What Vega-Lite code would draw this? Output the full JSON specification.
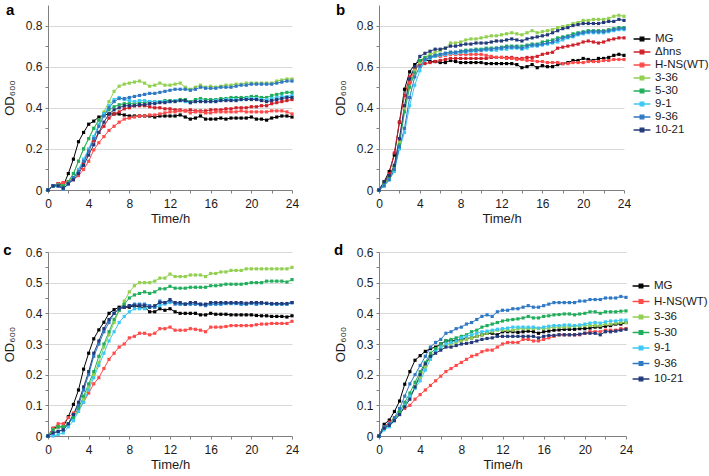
{
"$schema":"https://vega.github.io/schema/vega-lite/v6.json",
"padding":{"left":3,"top":3,"right":0,"bottom":0},
"config":{"font":"Liberation Sans","view":{"stroke":null},
"axis":{"labelFont":"Liberation Sans","labelFontSize":12,"labelColor":"#1a1a1a","titleFont":"Liberation Sans","titleFontSize":13,"titleFontWeight":"normal","titleColor":"#1a1a1a","domainColor":"#808080","tickColor":"#808080","tickSize":3,"gridColor":"#d9d9d9","labelPadding":3,"labelFlush":false,"labelOverlap":false},
"axisX":{"labelPadding":5,"titlePadding":3},
"legend":{"labelFont":"Liberation Sans","labelFontSize":11.5,"labelColor":"#1a1a1a","labelOffset":6,"symbolType":"M-1.4,0H1.4M-0.3,-0.3H0.3V0.3H-0.3Z","symbolSize":144,"symbolStrokeWidth":1.3}},
"datasets":{
"a":[
{"s":"MG","t":0,"v":0},{"s":"MG","t":0.5,"v":0.02},{"s":"MG","t":1,"v":0.03},{"s":"MG","t":1.5,"v":0.02},{"s":"MG","t":2,"v":0.08},{"s":"MG","t":2.5,"v":0.15},{"s":"MG","t":3,"v":0.235},{"s":"MG","t":3.5,"v":0.28},{"s":"MG","t":4,"v":0.32},{"s":"MG","t":4.5,"v":0.335},{"s":"MG","t":5,"v":0.355},{"s":"MG","t":5.5,"v":0.365},{"s":"MG","t":6,"v":0.37},{"s":"MG","t":6.5,"v":0.37},{"s":"MG","t":7,"v":0.37},{"s":"MG","t":7.5,"v":0.365},{"s":"MG","t":8,"v":0.36},{"s":"MG","t":8.5,"v":0.36},{"s":"MG","t":9,"v":0.36},{"s":"MG","t":9.5,"v":0.36},{"s":"MG","t":10,"v":0.36},{"s":"MG","t":10.5,"v":0.355},{"s":"MG","t":11,"v":0.36},{"s":"MG","t":11.5,"v":0.36},{"s":"MG","t":12,"v":0.36},{"s":"MG","t":12.5,"v":0.36},{"s":"MG","t":13,"v":0.365},{"s":"MG","t":13.5,"v":0.355},{"s":"MG","t":14,"v":0.345},{"s":"MG","t":14.5,"v":0.35},{"s":"MG","t":15,"v":0.36},{"s":"MG","t":15.5,"v":0.345},{"s":"MG","t":16,"v":0.345},{"s":"MG","t":16.5,"v":0.345},{"s":"MG","t":17,"v":0.35},{"s":"MG","t":17.5,"v":0.345},{"s":"MG","t":18,"v":0.35},{"s":"MG","t":18.5,"v":0.35},{"s":"MG","t":19,"v":0.35},{"s":"MG","t":19.5,"v":0.35},{"s":"MG","t":20,"v":0.355},{"s":"MG","t":20.5,"v":0.345},{"s":"MG","t":21,"v":0.345},{"s":"MG","t":21.5,"v":0.34},{"s":"MG","t":22,"v":0.35},{"s":"MG","t":22.5,"v":0.355},{"s":"MG","t":23,"v":0.36},{"s":"MG","t":23.5,"v":0.36},{"s":"MG","t":24,"v":0.355},
{"s":"Δhns","t":0,"v":0},{"s":"Δhns","t":0.5,"v":0.02},{"s":"Δhns","t":1,"v":0.03},{"s":"Δhns","t":1.5,"v":0.035},{"s":"Δhns","t":2,"v":0.04},{"s":"Δhns","t":2.5,"v":0.06},{"s":"Δhns","t":3,"v":0.09},{"s":"Δhns","t":3.5,"v":0.13},{"s":"Δhns","t":4,"v":0.19},{"s":"Δhns","t":4.5,"v":0.24},{"s":"Δhns","t":5,"v":0.28},{"s":"Δhns","t":5.5,"v":0.31},{"s":"Δhns","t":6,"v":0.35},{"s":"Δhns","t":6.5,"v":0.37},{"s":"Δhns","t":7,"v":0.38},{"s":"Δhns","t":7.5,"v":0.395},{"s":"Δhns","t":8,"v":0.4},{"s":"Δhns","t":8.5,"v":0.41},{"s":"Δhns","t":9,"v":0.41},{"s":"Δhns","t":9.5,"v":0.41},{"s":"Δhns","t":10,"v":0.405},{"s":"Δhns","t":10.5,"v":0.4},{"s":"Δhns","t":11,"v":0.4},{"s":"Δhns","t":11.5,"v":0.395},{"s":"Δhns","t":12,"v":0.395},{"s":"Δhns","t":12.5,"v":0.39},{"s":"Δhns","t":13,"v":0.39},{"s":"Δhns","t":13.5,"v":0.385},{"s":"Δhns","t":14,"v":0.39},{"s":"Δhns","t":14.5,"v":0.385},{"s":"Δhns","t":15,"v":0.385},{"s":"Δhns","t":15.5,"v":0.385},{"s":"Δhns","t":16,"v":0.39},{"s":"Δhns","t":16.5,"v":0.39},{"s":"Δhns","t":17,"v":0.39},{"s":"Δhns","t":17.5,"v":0.395},{"s":"Δhns","t":18,"v":0.395},{"s":"Δhns","t":18.5,"v":0.4},{"s":"Δhns","t":19,"v":0.4},{"s":"Δhns","t":19.5,"v":0.4},{"s":"Δhns","t":20,"v":0.405},{"s":"Δhns","t":20.5,"v":0.405},{"s":"Δhns","t":21,"v":0.41},{"s":"Δhns","t":21.5,"v":0.41},{"s":"Δhns","t":22,"v":0.42},{"s":"Δhns","t":22.5,"v":0.425},{"s":"Δhns","t":23,"v":0.43},{"s":"Δhns","t":23.5,"v":0.435},{"s":"Δhns","t":24,"v":0.44},
{"s":"H-NS(WT)","t":0,"v":0},{"s":"H-NS(WT)","t":0.5,"v":0.02},{"s":"H-NS(WT)","t":1,"v":0.03},{"s":"H-NS(WT)","t":1.5,"v":0.035},{"s":"H-NS(WT)","t":2,"v":0.04},{"s":"H-NS(WT)","t":2.5,"v":0.05},{"s":"H-NS(WT)","t":3,"v":0.07},{"s":"H-NS(WT)","t":3.5,"v":0.1},{"s":"H-NS(WT)","t":4,"v":0.14},{"s":"H-NS(WT)","t":4.5,"v":0.195},{"s":"H-NS(WT)","t":5,"v":0.23},{"s":"H-NS(WT)","t":5.5,"v":0.26},{"s":"H-NS(WT)","t":6,"v":0.29},{"s":"H-NS(WT)","t":6.5,"v":0.31},{"s":"H-NS(WT)","t":7,"v":0.33},{"s":"H-NS(WT)","t":7.5,"v":0.345},{"s":"H-NS(WT)","t":8,"v":0.35},{"s":"H-NS(WT)","t":8.5,"v":0.355},{"s":"H-NS(WT)","t":9,"v":0.36},{"s":"H-NS(WT)","t":9.5,"v":0.36},{"s":"H-NS(WT)","t":10,"v":0.365},{"s":"H-NS(WT)","t":10.5,"v":0.365},{"s":"H-NS(WT)","t":11,"v":0.37},{"s":"H-NS(WT)","t":11.5,"v":0.375},{"s":"H-NS(WT)","t":12,"v":0.38},{"s":"H-NS(WT)","t":12.5,"v":0.38},{"s":"H-NS(WT)","t":13,"v":0.385},{"s":"H-NS(WT)","t":13.5,"v":0.385},{"s":"H-NS(WT)","t":14,"v":0.375},{"s":"H-NS(WT)","t":14.5,"v":0.38},{"s":"H-NS(WT)","t":15,"v":0.38},{"s":"H-NS(WT)","t":15.5,"v":0.375},{"s":"H-NS(WT)","t":16,"v":0.375},{"s":"H-NS(WT)","t":16.5,"v":0.38},{"s":"H-NS(WT)","t":17,"v":0.38},{"s":"H-NS(WT)","t":17.5,"v":0.38},{"s":"H-NS(WT)","t":18,"v":0.38},{"s":"H-NS(WT)","t":18.5,"v":0.38},{"s":"H-NS(WT)","t":19,"v":0.385},{"s":"H-NS(WT)","t":19.5,"v":0.38},{"s":"H-NS(WT)","t":20,"v":0.38},{"s":"H-NS(WT)","t":20.5,"v":0.38},{"s":"H-NS(WT)","t":21,"v":0.38},{"s":"H-NS(WT)","t":21.5,"v":0.38},{"s":"H-NS(WT)","t":22,"v":0.385},{"s":"H-NS(WT)","t":22.5,"v":0.385},{"s":"H-NS(WT)","t":23,"v":0.385},{"s":"H-NS(WT)","t":23.5,"v":0.38},{"s":"H-NS(WT)","t":24,"v":0.37},
{"s":"3-36","t":0,"v":0},{"s":"3-36","t":0.5,"v":0.02},{"s":"3-36","t":1,"v":0.025},{"s":"3-36","t":1.5,"v":0.02},{"s":"3-36","t":2,"v":0.04},{"s":"3-36","t":2.5,"v":0.08},{"s":"3-36","t":3,"v":0.14},{"s":"3-36","t":3.5,"v":0.2},{"s":"3-36","t":4,"v":0.25},{"s":"3-36","t":4.5,"v":0.3},{"s":"3-36","t":5,"v":0.34},{"s":"3-36","t":5.5,"v":0.38},{"s":"3-36","t":6,"v":0.43},{"s":"3-36","t":6.5,"v":0.48},{"s":"3-36","t":7,"v":0.505},{"s":"3-36","t":7.5,"v":0.515},{"s":"3-36","t":8,"v":0.52},{"s":"3-36","t":8.5,"v":0.525},{"s":"3-36","t":9,"v":0.53},{"s":"3-36","t":9.5,"v":0.52},{"s":"3-36","t":10,"v":0.505},{"s":"3-36","t":10.5,"v":0.51},{"s":"3-36","t":11,"v":0.52},{"s":"3-36","t":11.5,"v":0.51},{"s":"3-36","t":12,"v":0.51},{"s":"3-36","t":12.5,"v":0.515},{"s":"3-36","t":13,"v":0.52},{"s":"3-36","t":13.5,"v":0.5},{"s":"3-36","t":14,"v":0.49},{"s":"3-36","t":14.5,"v":0.5},{"s":"3-36","t":15,"v":0.51},{"s":"3-36","t":15.5,"v":0.5},{"s":"3-36","t":16,"v":0.505},{"s":"3-36","t":16.5,"v":0.5},{"s":"3-36","t":17,"v":0.505},{"s":"3-36","t":17.5,"v":0.51},{"s":"3-36","t":18,"v":0.51},{"s":"3-36","t":18.5,"v":0.515},{"s":"3-36","t":19,"v":0.515},{"s":"3-36","t":19.5,"v":0.52},{"s":"3-36","t":20,"v":0.52},{"s":"3-36","t":20.5,"v":0.52},{"s":"3-36","t":21,"v":0.52},{"s":"3-36","t":21.5,"v":0.52},{"s":"3-36","t":22,"v":0.52},{"s":"3-36","t":22.5,"v":0.53},{"s":"3-36","t":23,"v":0.535},{"s":"3-36","t":23.5,"v":0.54},{"s":"3-36","t":24,"v":0.54},
{"s":"5-30","t":0,"v":0},{"s":"5-30","t":0.5,"v":0.02},{"s":"5-30","t":1,"v":0.025},{"s":"5-30","t":1.5,"v":0.02},{"s":"5-30","t":2,"v":0.04},{"s":"5-30","t":2.5,"v":0.08},{"s":"5-30","t":3,"v":0.14},{"s":"5-30","t":3.5,"v":0.2},{"s":"5-30","t":4,"v":0.25},{"s":"5-30","t":4.5,"v":0.3},{"s":"5-30","t":5,"v":0.34},{"s":"5-30","t":5.5,"v":0.37},{"s":"5-30","t":6,"v":0.39},{"s":"5-30","t":6.5,"v":0.405},{"s":"5-30","t":7,"v":0.415},{"s":"5-30","t":7.5,"v":0.42},{"s":"5-30","t":8,"v":0.42},{"s":"5-30","t":8.5,"v":0.42},{"s":"5-30","t":9,"v":0.425},{"s":"5-30","t":9.5,"v":0.425},{"s":"5-30","t":10,"v":0.43},{"s":"5-30","t":10.5,"v":0.43},{"s":"5-30","t":11,"v":0.43},{"s":"5-30","t":11.5,"v":0.435},{"s":"5-30","t":12,"v":0.435},{"s":"5-30","t":12.5,"v":0.435},{"s":"5-30","t":13,"v":0.44},{"s":"5-30","t":13.5,"v":0.44},{"s":"5-30","t":14,"v":0.43},{"s":"5-30","t":14.5,"v":0.44},{"s":"5-30","t":15,"v":0.445},{"s":"5-30","t":15.5,"v":0.44},{"s":"5-30","t":16,"v":0.44},{"s":"5-30","t":16.5,"v":0.44},{"s":"5-30","t":17,"v":0.445},{"s":"5-30","t":17.5,"v":0.445},{"s":"5-30","t":18,"v":0.45},{"s":"5-30","t":18.5,"v":0.45},{"s":"5-30","t":19,"v":0.45},{"s":"5-30","t":19.5,"v":0.45},{"s":"5-30","t":20,"v":0.455},{"s":"5-30","t":20.5,"v":0.455},{"s":"5-30","t":21,"v":0.45},{"s":"5-30","t":21.5,"v":0.45},{"s":"5-30","t":22,"v":0.46},{"s":"5-30","t":22.5,"v":0.465},{"s":"5-30","t":23,"v":0.47},{"s":"5-30","t":23.5,"v":0.475},{"s":"5-30","t":24,"v":0.475},
{"s":"9-1","t":0,"v":0},{"s":"9-1","t":0.5,"v":0.02},{"s":"9-1","t":1,"v":0.02},{"s":"9-1","t":1.5,"v":0.005},{"s":"9-1","t":2,"v":0.03},{"s":"9-1","t":2.5,"v":0.06},{"s":"9-1","t":3,"v":0.1},{"s":"9-1","t":3.5,"v":0.15},{"s":"9-1","t":4,"v":0.2},{"s":"9-1","t":4.5,"v":0.26},{"s":"9-1","t":5,"v":0.32},{"s":"9-1","t":5.5,"v":0.37},{"s":"9-1","t":6,"v":0.41},{"s":"9-1","t":6.5,"v":0.44},{"s":"9-1","t":7,"v":0.45},{"s":"9-1","t":7.5,"v":0.44},{"s":"9-1","t":8,"v":0.435},{"s":"9-1","t":8.5,"v":0.43},{"s":"9-1","t":9,"v":0.435},{"s":"9-1","t":9.5,"v":0.435},{"s":"9-1","t":10,"v":0.43},{"s":"9-1","t":10.5,"v":0.43},{"s":"9-1","t":11,"v":0.43},{"s":"9-1","t":11.5,"v":0.43},{"s":"9-1","t":12,"v":0.43},{"s":"9-1","t":12.5,"v":0.435},{"s":"9-1","t":13,"v":0.435},{"s":"9-1","t":13.5,"v":0.43},{"s":"9-1","t":14,"v":0.425},{"s":"9-1","t":14.5,"v":0.43},{"s":"9-1","t":15,"v":0.435},{"s":"9-1","t":15.5,"v":0.43},{"s":"9-1","t":16,"v":0.43},{"s":"9-1","t":16.5,"v":0.435},{"s":"9-1","t":17,"v":0.435},{"s":"9-1","t":17.5,"v":0.44},{"s":"9-1","t":18,"v":0.44},{"s":"9-1","t":18.5,"v":0.44},{"s":"9-1","t":19,"v":0.44},{"s":"9-1","t":19.5,"v":0.445},{"s":"9-1","t":20,"v":0.445},{"s":"9-1","t":20.5,"v":0.445},{"s":"9-1","t":21,"v":0.44},{"s":"9-1","t":21.5,"v":0.44},{"s":"9-1","t":22,"v":0.445},{"s":"9-1","t":22.5,"v":0.45},{"s":"9-1","t":23,"v":0.455},{"s":"9-1","t":23.5,"v":0.455},{"s":"9-1","t":24,"v":0.46},
{"s":"9-36","t":0,"v":0},{"s":"9-36","t":0.5,"v":0.02},{"s":"9-36","t":1,"v":0.02},{"s":"9-36","t":1.5,"v":0.005},{"s":"9-36","t":2,"v":0.03},{"s":"9-36","t":2.5,"v":0.06},{"s":"9-36","t":3,"v":0.09},{"s":"9-36","t":3.5,"v":0.14},{"s":"9-36","t":4,"v":0.19},{"s":"9-36","t":4.5,"v":0.25},{"s":"9-36","t":5,"v":0.31},{"s":"9-36","t":5.5,"v":0.36},{"s":"9-36","t":6,"v":0.4},{"s":"9-36","t":6.5,"v":0.43},{"s":"9-36","t":7,"v":0.445},{"s":"9-36","t":7.5,"v":0.445},{"s":"9-36","t":8,"v":0.45},{"s":"9-36","t":8.5,"v":0.455},{"s":"9-36","t":9,"v":0.46},{"s":"9-36","t":9.5,"v":0.465},{"s":"9-36","t":10,"v":0.47},{"s":"9-36","t":10.5,"v":0.47},{"s":"9-36","t":11,"v":0.475},{"s":"9-36","t":11.5,"v":0.48},{"s":"9-36","t":12,"v":0.485},{"s":"9-36","t":12.5,"v":0.49},{"s":"9-36","t":13,"v":0.49},{"s":"9-36","t":13.5,"v":0.49},{"s":"9-36","t":14,"v":0.485},{"s":"9-36","t":14.5,"v":0.49},{"s":"9-36","t":15,"v":0.5},{"s":"9-36","t":15.5,"v":0.495},{"s":"9-36","t":16,"v":0.495},{"s":"9-36","t":16.5,"v":0.495},{"s":"9-36","t":17,"v":0.5},{"s":"9-36","t":17.5,"v":0.5},{"s":"9-36","t":18,"v":0.5},{"s":"9-36","t":18.5,"v":0.505},{"s":"9-36","t":19,"v":0.51},{"s":"9-36","t":19.5,"v":0.51},{"s":"9-36","t":20,"v":0.515},{"s":"9-36","t":20.5,"v":0.515},{"s":"9-36","t":21,"v":0.515},{"s":"9-36","t":21.5,"v":0.515},{"s":"9-36","t":22,"v":0.515},{"s":"9-36","t":22.5,"v":0.52},{"s":"9-36","t":23,"v":0.525},{"s":"9-36","t":23.5,"v":0.53},{"s":"9-36","t":24,"v":0.53},
{"s":"10-21","t":0,"v":0},{"s":"10-21","t":0.5,"v":0.02},{"s":"10-21","t":1,"v":0.02},{"s":"10-21","t":1.5,"v":0.01},{"s":"10-21","t":2,"v":0.03},{"s":"10-21","t":2.5,"v":0.05},{"s":"10-21","t":3,"v":0.08},{"s":"10-21","t":3.5,"v":0.12},{"s":"10-21","t":4,"v":0.17},{"s":"10-21","t":4.5,"v":0.22},{"s":"10-21","t":5,"v":0.28},{"s":"10-21","t":5.5,"v":0.33},{"s":"10-21","t":6,"v":0.37},{"s":"10-21","t":6.5,"v":0.39},{"s":"10-21","t":7,"v":0.4},{"s":"10-21","t":7.5,"v":0.41},{"s":"10-21","t":8,"v":0.41},{"s":"10-21","t":8.5,"v":0.41},{"s":"10-21","t":9,"v":0.415},{"s":"10-21","t":9.5,"v":0.415},{"s":"10-21","t":10,"v":0.42},{"s":"10-21","t":10.5,"v":0.42},{"s":"10-21","t":11,"v":0.425},{"s":"10-21","t":11.5,"v":0.425},{"s":"10-21","t":12,"v":0.43},{"s":"10-21","t":12.5,"v":0.43},{"s":"10-21","t":13,"v":0.435},{"s":"10-21","t":13.5,"v":0.435},{"s":"10-21","t":14,"v":0.425},{"s":"10-21","t":14.5,"v":0.43},{"s":"10-21","t":15,"v":0.43},{"s":"10-21","t":15.5,"v":0.43},{"s":"10-21","t":16,"v":0.43},{"s":"10-21","t":16.5,"v":0.43},{"s":"10-21","t":17,"v":0.435},{"s":"10-21","t":17.5,"v":0.435},{"s":"10-21","t":18,"v":0.435},{"s":"10-21","t":18.5,"v":0.435},{"s":"10-21","t":19,"v":0.44},{"s":"10-21","t":19.5,"v":0.44},{"s":"10-21","t":20,"v":0.44},{"s":"10-21","t":20.5,"v":0.44},{"s":"10-21","t":21,"v":0.435},{"s":"10-21","t":21.5,"v":0.43},{"s":"10-21","t":22,"v":0.435},{"s":"10-21","t":22.5,"v":0.44},{"s":"10-21","t":23,"v":0.445},{"s":"10-21","t":23.5,"v":0.45},{"s":"10-21","t":24,"v":0.45}
],
"b":[
{"s":"MG","t":0,"v":0},{"s":"MG","t":0.5,"v":0.04},{"s":"MG","t":1,"v":0.09},{"s":"MG","t":1.5,"v":0.17},{"s":"MG","t":2,"v":0.33},{"s":"MG","t":2.5,"v":0.49},{"s":"MG","t":3,"v":0.575},{"s":"MG","t":3.5,"v":0.61},{"s":"MG","t":4,"v":0.63},{"s":"MG","t":4.5,"v":0.635},{"s":"MG","t":5,"v":0.625},{"s":"MG","t":5.5,"v":0.625},{"s":"MG","t":6,"v":0.62},{"s":"MG","t":6.5,"v":0.62},{"s":"MG","t":7,"v":0.63},{"s":"MG","t":7.5,"v":0.625},{"s":"MG","t":8,"v":0.62},{"s":"MG","t":8.5,"v":0.62},{"s":"MG","t":9,"v":0.62},{"s":"MG","t":9.5,"v":0.62},{"s":"MG","t":10,"v":0.62},{"s":"MG","t":10.5,"v":0.615},{"s":"MG","t":11,"v":0.615},{"s":"MG","t":11.5,"v":0.615},{"s":"MG","t":12,"v":0.615},{"s":"MG","t":12.5,"v":0.615},{"s":"MG","t":13,"v":0.615},{"s":"MG","t":13.5,"v":0.61},{"s":"MG","t":14,"v":0.595},{"s":"MG","t":14.5,"v":0.6},{"s":"MG","t":15,"v":0.61},{"s":"MG","t":15.5,"v":0.595},{"s":"MG","t":16,"v":0.605},{"s":"MG","t":16.5,"v":0.6},{"s":"MG","t":17,"v":0.6},{"s":"MG","t":17.5,"v":0.61},{"s":"MG","t":18,"v":0.615},{"s":"MG","t":18.5,"v":0.62},{"s":"MG","t":19,"v":0.63},{"s":"MG","t":19.5,"v":0.63},{"s":"MG","t":20,"v":0.64},{"s":"MG","t":20.5,"v":0.635},{"s":"MG","t":21,"v":0.63},{"s":"MG","t":21.5,"v":0.64},{"s":"MG","t":22,"v":0.64},{"s":"MG","t":22.5,"v":0.645},{"s":"MG","t":23,"v":0.655},{"s":"MG","t":23.5,"v":0.66},{"s":"MG","t":24,"v":0.655},
{"s":"Δhns","t":0,"v":0},{"s":"Δhns","t":0.5,"v":0.03},{"s":"Δhns","t":1,"v":0.08},{"s":"Δhns","t":1.5,"v":0.18},{"s":"Δhns","t":2,"v":0.33},{"s":"Δhns","t":2.5,"v":0.46},{"s":"Δhns","t":3,"v":0.55},{"s":"Δhns","t":3.5,"v":0.59},{"s":"Δhns","t":4,"v":0.61},{"s":"Δhns","t":4.5,"v":0.615},{"s":"Δhns","t":5,"v":0.62},{"s":"Δhns","t":5.5,"v":0.625},{"s":"Δhns","t":6,"v":0.63},{"s":"Δhns","t":6.5,"v":0.635},{"s":"Δhns","t":7,"v":0.64},{"s":"Δhns","t":7.5,"v":0.64},{"s":"Δhns","t":8,"v":0.64},{"s":"Δhns","t":8.5,"v":0.64},{"s":"Δhns","t":9,"v":0.64},{"s":"Δhns","t":9.5,"v":0.64},{"s":"Δhns","t":10,"v":0.64},{"s":"Δhns","t":10.5,"v":0.64},{"s":"Δhns","t":11,"v":0.645},{"s":"Δhns","t":11.5,"v":0.645},{"s":"Δhns","t":12,"v":0.645},{"s":"Δhns","t":12.5,"v":0.645},{"s":"Δhns","t":13,"v":0.645},{"s":"Δhns","t":13.5,"v":0.64},{"s":"Δhns","t":14,"v":0.64},{"s":"Δhns","t":14.5,"v":0.645},{"s":"Δhns","t":15,"v":0.645},{"s":"Δhns","t":15.5,"v":0.65},{"s":"Δhns","t":16,"v":0.66},{"s":"Δhns","t":16.5,"v":0.665},{"s":"Δhns","t":17,"v":0.67},{"s":"Δhns","t":17.5,"v":0.69},{"s":"Δhns","t":18,"v":0.695},{"s":"Δhns","t":18.5,"v":0.7},{"s":"Δhns","t":19,"v":0.705},{"s":"Δhns","t":19.5,"v":0.71},{"s":"Δhns","t":20,"v":0.72},{"s":"Δhns","t":20.5,"v":0.725},{"s":"Δhns","t":21,"v":0.72},{"s":"Δhns","t":21.5,"v":0.715},{"s":"Δhns","t":22,"v":0.72},{"s":"Δhns","t":22.5,"v":0.73},{"s":"Δhns","t":23,"v":0.735},{"s":"Δhns","t":23.5,"v":0.74},{"s":"Δhns","t":24,"v":0.74},
{"s":"H-NS(WT)","t":0,"v":0},{"s":"H-NS(WT)","t":0.5,"v":0.03},{"s":"H-NS(WT)","t":1,"v":0.06},{"s":"H-NS(WT)","t":1.5,"v":0.12},{"s":"H-NS(WT)","t":2,"v":0.25},{"s":"H-NS(WT)","t":2.5,"v":0.4},{"s":"H-NS(WT)","t":3,"v":0.52},{"s":"H-NS(WT)","t":3.5,"v":0.59},{"s":"H-NS(WT)","t":4,"v":0.62},{"s":"H-NS(WT)","t":4.5,"v":0.635},{"s":"H-NS(WT)","t":5,"v":0.645},{"s":"H-NS(WT)","t":5.5,"v":0.65},{"s":"H-NS(WT)","t":6,"v":0.65},{"s":"H-NS(WT)","t":6.5,"v":0.655},{"s":"H-NS(WT)","t":7,"v":0.66},{"s":"H-NS(WT)","t":7.5,"v":0.66},{"s":"H-NS(WT)","t":8,"v":0.66},{"s":"H-NS(WT)","t":8.5,"v":0.66},{"s":"H-NS(WT)","t":9,"v":0.66},{"s":"H-NS(WT)","t":9.5,"v":0.66},{"s":"H-NS(WT)","t":10,"v":0.66},{"s":"H-NS(WT)","t":10.5,"v":0.655},{"s":"H-NS(WT)","t":11,"v":0.65},{"s":"H-NS(WT)","t":11.5,"v":0.645},{"s":"H-NS(WT)","t":12,"v":0.645},{"s":"H-NS(WT)","t":12.5,"v":0.64},{"s":"H-NS(WT)","t":13,"v":0.64},{"s":"H-NS(WT)","t":13.5,"v":0.635},{"s":"H-NS(WT)","t":14,"v":0.635},{"s":"H-NS(WT)","t":14.5,"v":0.63},{"s":"H-NS(WT)","t":15,"v":0.63},{"s":"H-NS(WT)","t":15.5,"v":0.625},{"s":"H-NS(WT)","t":16,"v":0.625},{"s":"H-NS(WT)","t":16.5,"v":0.62},{"s":"H-NS(WT)","t":17,"v":0.62},{"s":"H-NS(WT)","t":17.5,"v":0.62},{"s":"H-NS(WT)","t":18,"v":0.615},{"s":"H-NS(WT)","t":18.5,"v":0.615},{"s":"H-NS(WT)","t":19,"v":0.62},{"s":"H-NS(WT)","t":19.5,"v":0.62},{"s":"H-NS(WT)","t":20,"v":0.62},{"s":"H-NS(WT)","t":20.5,"v":0.625},{"s":"H-NS(WT)","t":21,"v":0.625},{"s":"H-NS(WT)","t":21.5,"v":0.625},{"s":"H-NS(WT)","t":22,"v":0.63},{"s":"H-NS(WT)","t":22.5,"v":0.63},{"s":"H-NS(WT)","t":23,"v":0.635},{"s":"H-NS(WT)","t":23.5,"v":0.635},{"s":"H-NS(WT)","t":24,"v":0.635},
{"s":"3-36","t":0,"v":0},{"s":"3-36","t":0.5,"v":0.03},{"s":"3-36","t":1,"v":0.06},{"s":"3-36","t":1.5,"v":0.11},{"s":"3-36","t":2,"v":0.23},{"s":"3-36","t":2.5,"v":0.4},{"s":"3-36","t":3,"v":0.5},{"s":"3-36","t":3.5,"v":0.58},{"s":"3-36","t":4,"v":0.62},{"s":"3-36","t":4.5,"v":0.645},{"s":"3-36","t":5,"v":0.66},{"s":"3-36","t":5.5,"v":0.67},{"s":"3-36","t":6,"v":0.68},{"s":"3-36","t":6.5,"v":0.69},{"s":"3-36","t":7,"v":0.715},{"s":"3-36","t":7.5,"v":0.715},{"s":"3-36","t":8,"v":0.72},{"s":"3-36","t":8.5,"v":0.73},{"s":"3-36","t":9,"v":0.735},{"s":"3-36","t":9.5,"v":0.735},{"s":"3-36","t":10,"v":0.74},{"s":"3-36","t":10.5,"v":0.745},{"s":"3-36","t":11,"v":0.75},{"s":"3-36","t":11.5,"v":0.75},{"s":"3-36","t":12,"v":0.755},{"s":"3-36","t":12.5,"v":0.76},{"s":"3-36","t":13,"v":0.765},{"s":"3-36","t":13.5,"v":0.76},{"s":"3-36","t":14,"v":0.755},{"s":"3-36","t":14.5,"v":0.765},{"s":"3-36","t":15,"v":0.775},{"s":"3-36","t":15.5,"v":0.765},{"s":"3-36","t":16,"v":0.77},{"s":"3-36","t":16.5,"v":0.775},{"s":"3-36","t":17,"v":0.78},{"s":"3-36","t":17.5,"v":0.79},{"s":"3-36","t":18,"v":0.795},{"s":"3-36","t":18.5,"v":0.8},{"s":"3-36","t":19,"v":0.81},{"s":"3-36","t":19.5,"v":0.815},{"s":"3-36","t":20,"v":0.825},{"s":"3-36","t":20.5,"v":0.825},{"s":"3-36","t":21,"v":0.83},{"s":"3-36","t":21.5,"v":0.83},{"s":"3-36","t":22,"v":0.83},{"s":"3-36","t":22.5,"v":0.835},{"s":"3-36","t":23,"v":0.845},{"s":"3-36","t":23.5,"v":0.85},{"s":"3-36","t":24,"v":0.845},
{"s":"5-30","t":0,"v":0},{"s":"5-30","t":0.5,"v":0.03},{"s":"5-30","t":1,"v":0.06},{"s":"5-30","t":1.5,"v":0.11},{"s":"5-30","t":2,"v":0.22},{"s":"5-30","t":2.5,"v":0.38},{"s":"5-30","t":3,"v":0.5},{"s":"5-30","t":3.5,"v":0.57},{"s":"5-30","t":4,"v":0.63},{"s":"5-30","t":4.5,"v":0.645},{"s":"5-30","t":5,"v":0.65},{"s":"5-30","t":5.5,"v":0.655},{"s":"5-30","t":6,"v":0.66},{"s":"5-30","t":6.5,"v":0.665},{"s":"5-30","t":7,"v":0.67},{"s":"5-30","t":7.5,"v":0.67},{"s":"5-30","t":8,"v":0.675},{"s":"5-30","t":8.5,"v":0.68},{"s":"5-30","t":9,"v":0.68},{"s":"5-30","t":9.5,"v":0.685},{"s":"5-30","t":10,"v":0.685},{"s":"5-30","t":10.5,"v":0.69},{"s":"5-30","t":11,"v":0.69},{"s":"5-30","t":11.5,"v":0.69},{"s":"5-30","t":12,"v":0.695},{"s":"5-30","t":12.5,"v":0.7},{"s":"5-30","t":13,"v":0.7},{"s":"5-30","t":13.5,"v":0.7},{"s":"5-30","t":14,"v":0.7},{"s":"5-30","t":14.5,"v":0.705},{"s":"5-30","t":15,"v":0.71},{"s":"5-30","t":15.5,"v":0.71},{"s":"5-30","t":16,"v":0.72},{"s":"5-30","t":16.5,"v":0.725},{"s":"5-30","t":17,"v":0.73},{"s":"5-30","t":17.5,"v":0.74},{"s":"5-30","t":18,"v":0.745},{"s":"5-30","t":18.5,"v":0.75},{"s":"5-30","t":19,"v":0.76},{"s":"5-30","t":19.5,"v":0.765},{"s":"5-30","t":20,"v":0.77},{"s":"5-30","t":20.5,"v":0.775},{"s":"5-30","t":21,"v":0.775},{"s":"5-30","t":21.5,"v":0.775},{"s":"5-30","t":22,"v":0.775},{"s":"5-30","t":22.5,"v":0.78},{"s":"5-30","t":23,"v":0.785},{"s":"5-30","t":23.5,"v":0.79},{"s":"5-30","t":24,"v":0.79},
{"s":"9-1","t":0,"v":0},{"s":"9-1","t":0.5,"v":0.02},{"s":"9-1","t":1,"v":0.05},{"s":"9-1","t":1.5,"v":0.09},{"s":"9-1","t":2,"v":0.2},{"s":"9-1","t":2.5,"v":0.28},{"s":"9-1","t":3,"v":0.41},{"s":"9-1","t":3.5,"v":0.51},{"s":"9-1","t":4,"v":0.58},{"s":"9-1","t":4.5,"v":0.63},{"s":"9-1","t":5,"v":0.64},{"s":"9-1","t":5.5,"v":0.65},{"s":"9-1","t":6,"v":0.655},{"s":"9-1","t":6.5,"v":0.66},{"s":"9-1","t":7,"v":0.665},{"s":"9-1","t":7.5,"v":0.665},{"s":"9-1","t":8,"v":0.67},{"s":"9-1","t":8.5,"v":0.67},{"s":"9-1","t":9,"v":0.675},{"s":"9-1","t":9.5,"v":0.675},{"s":"9-1","t":10,"v":0.68},{"s":"9-1","t":10.5,"v":0.68},{"s":"9-1","t":11,"v":0.68},{"s":"9-1","t":11.5,"v":0.68},{"s":"9-1","t":12,"v":0.685},{"s":"9-1","t":12.5,"v":0.685},{"s":"9-1","t":13,"v":0.69},{"s":"9-1","t":13.5,"v":0.69},{"s":"9-1","t":14,"v":0.685},{"s":"9-1","t":14.5,"v":0.69},{"s":"9-1","t":15,"v":0.7},{"s":"9-1","t":15.5,"v":0.7},{"s":"9-1","t":16,"v":0.705},{"s":"9-1","t":16.5,"v":0.71},{"s":"9-1","t":17,"v":0.715},{"s":"9-1","t":17.5,"v":0.72},{"s":"9-1","t":18,"v":0.73},{"s":"9-1","t":18.5,"v":0.74},{"s":"9-1","t":19,"v":0.745},{"s":"9-1","t":19.5,"v":0.755},{"s":"9-1","t":20,"v":0.76},{"s":"9-1","t":20.5,"v":0.765},{"s":"9-1","t":21,"v":0.765},{"s":"9-1","t":21.5,"v":0.765},{"s":"9-1","t":22,"v":0.765},{"s":"9-1","t":22.5,"v":0.77},{"s":"9-1","t":23,"v":0.775},{"s":"9-1","t":23.5,"v":0.78},{"s":"9-1","t":24,"v":0.78},
{"s":"9-36","t":0,"v":0},{"s":"9-36","t":0.5,"v":0.02},{"s":"9-36","t":1,"v":0.05},{"s":"9-36","t":1.5,"v":0.1},{"s":"9-36","t":2,"v":0.21},{"s":"9-36","t":2.5,"v":0.3},{"s":"9-36","t":3,"v":0.45},{"s":"9-36","t":3.5,"v":0.55},{"s":"9-36","t":4,"v":0.6},{"s":"9-36","t":4.5,"v":0.635},{"s":"9-36","t":5,"v":0.645},{"s":"9-36","t":5.5,"v":0.655},{"s":"9-36","t":6,"v":0.66},{"s":"9-36","t":6.5,"v":0.665},{"s":"9-36","t":7,"v":0.67},{"s":"9-36","t":7.5,"v":0.67},{"s":"9-36","t":8,"v":0.675},{"s":"9-36","t":8.5,"v":0.675},{"s":"9-36","t":9,"v":0.68},{"s":"9-36","t":9.5,"v":0.68},{"s":"9-36","t":10,"v":0.68},{"s":"9-36","t":10.5,"v":0.685},{"s":"9-36","t":11,"v":0.685},{"s":"9-36","t":11.5,"v":0.69},{"s":"9-36","t":12,"v":0.69},{"s":"9-36","t":12.5,"v":0.695},{"s":"9-36","t":13,"v":0.695},{"s":"9-36","t":13.5,"v":0.695},{"s":"9-36","t":14,"v":0.69},{"s":"9-36","t":14.5,"v":0.7},{"s":"9-36","t":15,"v":0.705},{"s":"9-36","t":15.5,"v":0.705},{"s":"9-36","t":16,"v":0.71},{"s":"9-36","t":16.5,"v":0.715},{"s":"9-36","t":17,"v":0.72},{"s":"9-36","t":17.5,"v":0.73},{"s":"9-36","t":18,"v":0.74},{"s":"9-36","t":18.5,"v":0.745},{"s":"9-36","t":19,"v":0.75},{"s":"9-36","t":19.5,"v":0.76},{"s":"9-36","t":20,"v":0.765},{"s":"9-36","t":20.5,"v":0.77},{"s":"9-36","t":21,"v":0.77},{"s":"9-36","t":21.5,"v":0.77},{"s":"9-36","t":22,"v":0.77},{"s":"9-36","t":22.5,"v":0.775},{"s":"9-36","t":23,"v":0.78},{"s":"9-36","t":23.5,"v":0.785},{"s":"9-36","t":24,"v":0.785},
{"s":"10-21","t":0,"v":0},{"s":"10-21","t":0.5,"v":0.04},{"s":"10-21","t":1,"v":0.07},{"s":"10-21","t":1.5,"v":0.12},{"s":"10-21","t":2,"v":0.25},{"s":"10-21","t":2.5,"v":0.41},{"s":"10-21","t":3,"v":0.54},{"s":"10-21","t":3.5,"v":0.6},{"s":"10-21","t":4,"v":0.65},{"s":"10-21","t":4.5,"v":0.665},{"s":"10-21","t":5,"v":0.675},{"s":"10-21","t":5.5,"v":0.685},{"s":"10-21","t":6,"v":0.685},{"s":"10-21","t":6.5,"v":0.69},{"s":"10-21","t":7,"v":0.7},{"s":"10-21","t":7.5,"v":0.7},{"s":"10-21","t":8,"v":0.705},{"s":"10-21","t":8.5,"v":0.71},{"s":"10-21","t":9,"v":0.71},{"s":"10-21","t":9.5,"v":0.715},{"s":"10-21","t":10,"v":0.715},{"s":"10-21","t":10.5,"v":0.715},{"s":"10-21","t":11,"v":0.72},{"s":"10-21","t":11.5,"v":0.725},{"s":"10-21","t":12,"v":0.725},{"s":"10-21","t":12.5,"v":0.73},{"s":"10-21","t":13,"v":0.735},{"s":"10-21","t":13.5,"v":0.73},{"s":"10-21","t":14,"v":0.725},{"s":"10-21","t":14.5,"v":0.735},{"s":"10-21","t":15,"v":0.74},{"s":"10-21","t":15.5,"v":0.745},{"s":"10-21","t":16,"v":0.75},{"s":"10-21","t":16.5,"v":0.755},{"s":"10-21","t":17,"v":0.765},{"s":"10-21","t":17.5,"v":0.775},{"s":"10-21","t":18,"v":0.785},{"s":"10-21","t":18.5,"v":0.79},{"s":"10-21","t":19,"v":0.8},{"s":"10-21","t":19.5,"v":0.805},{"s":"10-21","t":20,"v":0.81},{"s":"10-21","t":20.5,"v":0.81},{"s":"10-21","t":21,"v":0.81},{"s":"10-21","t":21.5,"v":0.81},{"s":"10-21","t":22,"v":0.815},{"s":"10-21","t":22.5,"v":0.82},{"s":"10-21","t":23,"v":0.82},{"s":"10-21","t":23.5,"v":0.83},{"s":"10-21","t":24,"v":0.825}
],
"c":[
{"s":"MG","t":0,"v":0},{"s":"MG","t":0.5,"v":0.025},{"s":"MG","t":1,"v":0.03},{"s":"MG","t":1.5,"v":0.03},{"s":"MG","t":2,"v":0.063},{"s":"MG","t":2.5,"v":0.103},{"s":"MG","t":3,"v":0.15},{"s":"MG","t":3.5,"v":0.218},{"s":"MG","t":4,"v":0.27},{"s":"MG","t":4.5,"v":0.317},{"s":"MG","t":5,"v":0.346},{"s":"MG","t":5.5,"v":0.371},{"s":"MG","t":6,"v":0.4},{"s":"MG","t":6.5,"v":0.412},{"s":"MG","t":7,"v":0.42},{"s":"MG","t":7.5,"v":0.42},{"s":"MG","t":8,"v":0.42},{"s":"MG","t":8.5,"v":0.425},{"s":"MG","t":9,"v":0.42},{"s":"MG","t":9.5,"v":0.42},{"s":"MG","t":10,"v":0.405},{"s":"MG","t":10.5,"v":0.405},{"s":"MG","t":11,"v":0.415},{"s":"MG","t":11.5,"v":0.41},{"s":"MG","t":12,"v":0.415},{"s":"MG","t":12.5,"v":0.405},{"s":"MG","t":13,"v":0.4},{"s":"MG","t":13.5,"v":0.4},{"s":"MG","t":14,"v":0.4},{"s":"MG","t":14.5,"v":0.4},{"s":"MG","t":15,"v":0.395},{"s":"MG","t":15.5,"v":0.395},{"s":"MG","t":16,"v":0.4},{"s":"MG","t":16.5,"v":0.397},{"s":"MG","t":17,"v":0.397},{"s":"MG","t":17.5,"v":0.397},{"s":"MG","t":18,"v":0.395},{"s":"MG","t":18.5,"v":0.395},{"s":"MG","t":19,"v":0.395},{"s":"MG","t":19.5,"v":0.395},{"s":"MG","t":20,"v":0.395},{"s":"MG","t":20.5,"v":0.393},{"s":"MG","t":21,"v":0.392},{"s":"MG","t":21.5,"v":0.392},{"s":"MG","t":22,"v":0.39},{"s":"MG","t":22.5,"v":0.39},{"s":"MG","t":23,"v":0.39},{"s":"MG","t":23.5,"v":0.388},{"s":"MG","t":24,"v":0.392},
{"s":"H-NS(WT)","t":0,"v":0},{"s":"H-NS(WT)","t":0.5,"v":0.025},{"s":"H-NS(WT)","t":1,"v":0.04},{"s":"H-NS(WT)","t":1.5,"v":0.04},{"s":"H-NS(WT)","t":2,"v":0.06},{"s":"H-NS(WT)","t":2.5,"v":0.075},{"s":"H-NS(WT)","t":3,"v":0.085},{"s":"H-NS(WT)","t":3.5,"v":0.11},{"s":"H-NS(WT)","t":4,"v":0.14},{"s":"H-NS(WT)","t":4.5,"v":0.17},{"s":"H-NS(WT)","t":5,"v":0.19},{"s":"H-NS(WT)","t":5.5,"v":0.22},{"s":"H-NS(WT)","t":6,"v":0.25},{"s":"H-NS(WT)","t":6.5,"v":0.27},{"s":"H-NS(WT)","t":7,"v":0.29},{"s":"H-NS(WT)","t":7.5,"v":0.3},{"s":"H-NS(WT)","t":8,"v":0.32},{"s":"H-NS(WT)","t":8.5,"v":0.325},{"s":"H-NS(WT)","t":9,"v":0.335},{"s":"H-NS(WT)","t":9.5,"v":0.335},{"s":"H-NS(WT)","t":10,"v":0.33},{"s":"H-NS(WT)","t":10.5,"v":0.335},{"s":"H-NS(WT)","t":11,"v":0.35},{"s":"H-NS(WT)","t":11.5,"v":0.35},{"s":"H-NS(WT)","t":12,"v":0.355},{"s":"H-NS(WT)","t":12.5,"v":0.345},{"s":"H-NS(WT)","t":13,"v":0.345},{"s":"H-NS(WT)","t":13.5,"v":0.345},{"s":"H-NS(WT)","t":14,"v":0.35},{"s":"H-NS(WT)","t":14.5,"v":0.348},{"s":"H-NS(WT)","t":15,"v":0.345},{"s":"H-NS(WT)","t":15.5,"v":0.34},{"s":"H-NS(WT)","t":16,"v":0.355},{"s":"H-NS(WT)","t":16.5,"v":0.355},{"s":"H-NS(WT)","t":17,"v":0.355},{"s":"H-NS(WT)","t":17.5,"v":0.357},{"s":"H-NS(WT)","t":18,"v":0.36},{"s":"H-NS(WT)","t":18.5,"v":0.36},{"s":"H-NS(WT)","t":19,"v":0.36},{"s":"H-NS(WT)","t":19.5,"v":0.36},{"s":"H-NS(WT)","t":20,"v":0.36},{"s":"H-NS(WT)","t":20.5,"v":0.363},{"s":"H-NS(WT)","t":21,"v":0.365},{"s":"H-NS(WT)","t":21.5,"v":0.365},{"s":"H-NS(WT)","t":22,"v":0.367},{"s":"H-NS(WT)","t":22.5,"v":0.367},{"s":"H-NS(WT)","t":23,"v":0.367},{"s":"H-NS(WT)","t":23.5,"v":0.367},{"s":"H-NS(WT)","t":24,"v":0.374},
{"s":"3-36","t":0,"v":0},{"s":"3-36","t":0.5,"v":0.02},{"s":"3-36","t":1,"v":0.03},{"s":"3-36","t":1.5,"v":0.03},{"s":"3-36","t":2,"v":0.04},{"s":"3-36","t":2.5,"v":0.06},{"s":"3-36","t":3,"v":0.08},{"s":"3-36","t":3.5,"v":0.12},{"s":"3-36","t":4,"v":0.16},{"s":"3-36","t":4.5,"v":0.2},{"s":"3-36","t":5,"v":0.24},{"s":"3-36","t":5.5,"v":0.29},{"s":"3-36","t":6,"v":0.33},{"s":"3-36","t":6.5,"v":0.37},{"s":"3-36","t":7,"v":0.41},{"s":"3-36","t":7.5,"v":0.44},{"s":"3-36","t":8,"v":0.47},{"s":"3-36","t":8.5,"v":0.49},{"s":"3-36","t":9,"v":0.5},{"s":"3-36","t":9.5,"v":0.5},{"s":"3-36","t":10,"v":0.5},{"s":"3-36","t":10.5,"v":0.505},{"s":"3-36","t":11,"v":0.515},{"s":"3-36","t":11.5,"v":0.515},{"s":"3-36","t":12,"v":0.528},{"s":"3-36","t":12.5,"v":0.52},{"s":"3-36","t":13,"v":0.52},{"s":"3-36","t":13.5,"v":0.52},{"s":"3-36","t":14,"v":0.525},{"s":"3-36","t":14.5,"v":0.525},{"s":"3-36","t":15,"v":0.525},{"s":"3-36","t":15.5,"v":0.52},{"s":"3-36","t":16,"v":0.53},{"s":"3-36","t":16.5,"v":0.53},{"s":"3-36","t":17,"v":0.535},{"s":"3-36","t":17.5,"v":0.535},{"s":"3-36","t":18,"v":0.54},{"s":"3-36","t":18.5,"v":0.54},{"s":"3-36","t":19,"v":0.54},{"s":"3-36","t":19.5,"v":0.545},{"s":"3-36","t":20,"v":0.545},{"s":"3-36","t":20.5,"v":0.545},{"s":"3-36","t":21,"v":0.545},{"s":"3-36","t":21.5,"v":0.545},{"s":"3-36","t":22,"v":0.545},{"s":"3-36","t":22.5,"v":0.545},{"s":"3-36","t":23,"v":0.545},{"s":"3-36","t":23.5,"v":0.545},{"s":"3-36","t":24,"v":0.55},
{"s":"5-30","t":0,"v":0},{"s":"5-30","t":0.5,"v":0.02},{"s":"5-30","t":1,"v":0.03},{"s":"5-30","t":1.5,"v":0.03},{"s":"5-30","t":2,"v":0.04},{"s":"5-30","t":2.5,"v":0.06},{"s":"5-30","t":3,"v":0.09},{"s":"5-30","t":3.5,"v":0.13},{"s":"5-30","t":4,"v":0.17},{"s":"5-30","t":4.5,"v":0.21},{"s":"5-30","t":5,"v":0.26},{"s":"5-30","t":5.5,"v":0.3},{"s":"5-30","t":6,"v":0.34},{"s":"5-30","t":6.5,"v":0.38},{"s":"5-30","t":7,"v":0.41},{"s":"5-30","t":7.5,"v":0.43},{"s":"5-30","t":8,"v":0.45},{"s":"5-30","t":8.5,"v":0.46},{"s":"5-30","t":9,"v":0.465},{"s":"5-30","t":9.5,"v":0.47},{"s":"5-30","t":10,"v":0.465},{"s":"5-30","t":10.5,"v":0.47},{"s":"5-30","t":11,"v":0.48},{"s":"5-30","t":11.5,"v":0.48},{"s":"5-30","t":12,"v":0.488},{"s":"5-30","t":12.5,"v":0.482},{"s":"5-30","t":13,"v":0.482},{"s":"5-30","t":13.5,"v":0.482},{"s":"5-30","t":14,"v":0.485},{"s":"5-30","t":14.5,"v":0.485},{"s":"5-30","t":15,"v":0.485},{"s":"5-30","t":15.5,"v":0.485},{"s":"5-30","t":16,"v":0.49},{"s":"5-30","t":16.5,"v":0.49},{"s":"5-30","t":17,"v":0.492},{"s":"5-30","t":17.5,"v":0.495},{"s":"5-30","t":18,"v":0.495},{"s":"5-30","t":18.5,"v":0.495},{"s":"5-30","t":19,"v":0.495},{"s":"5-30","t":19.5,"v":0.497},{"s":"5-30","t":20,"v":0.5},{"s":"5-30","t":20.5,"v":0.5},{"s":"5-30","t":21,"v":0.5},{"s":"5-30","t":21.5,"v":0.505},{"s":"5-30","t":22,"v":0.505},{"s":"5-30","t":22.5,"v":0.505},{"s":"5-30","t":23,"v":0.505},{"s":"5-30","t":23.5,"v":0.502},{"s":"5-30","t":24,"v":0.51},
{"s":"9-1","t":0,"v":0},{"s":"9-1","t":0.5,"v":0},{"s":"9-1","t":1,"v":0.005},{"s":"9-1","t":1.5,"v":0.01},{"s":"9-1","t":2,"v":0.03},{"s":"9-1","t":2.5,"v":0.05},{"s":"9-1","t":3,"v":0.08},{"s":"9-1","t":3.5,"v":0.11},{"s":"9-1","t":4,"v":0.15},{"s":"9-1","t":4.5,"v":0.19},{"s":"9-1","t":5,"v":0.23},{"s":"9-1","t":5.5,"v":0.27},{"s":"9-1","t":6,"v":0.31},{"s":"9-1","t":6.5,"v":0.34},{"s":"9-1","t":7,"v":0.37},{"s":"9-1","t":7.5,"v":0.39},{"s":"9-1","t":8,"v":0.405},{"s":"9-1","t":8.5,"v":0.415},{"s":"9-1","t":9,"v":0.415},{"s":"9-1","t":9.5,"v":0.415},{"s":"9-1","t":10,"v":0.42},{"s":"9-1","t":10.5,"v":0.42},{"s":"9-1","t":11,"v":0.425},{"s":"9-1","t":11.5,"v":0.43},{"s":"9-1","t":12,"v":0.435},{"s":"9-1","t":12.5,"v":0.435},{"s":"9-1","t":13,"v":0.43},{"s":"9-1","t":13.5,"v":0.43},{"s":"9-1","t":14,"v":0.43},{"s":"9-1","t":14.5,"v":0.43},{"s":"9-1","t":15,"v":0.43},{"s":"9-1","t":15.5,"v":0.428},{"s":"9-1","t":16,"v":0.43},{"s":"9-1","t":16.5,"v":0.43},{"s":"9-1","t":17,"v":0.43},{"s":"9-1","t":17.5,"v":0.432},{"s":"9-1","t":18,"v":0.432},{"s":"9-1","t":18.5,"v":0.432},{"s":"9-1","t":19,"v":0.43},{"s":"9-1","t":19.5,"v":0.43},{"s":"9-1","t":20,"v":0.432},{"s":"9-1","t":20.5,"v":0.43},{"s":"9-1","t":21,"v":0.432},{"s":"9-1","t":21.5,"v":0.432},{"s":"9-1","t":22,"v":0.43},{"s":"9-1","t":22.5,"v":0.43},{"s":"9-1","t":23,"v":0.43},{"s":"9-1","t":23.5,"v":0.43},{"s":"9-1","t":24,"v":0.435},
{"s":"9-36","t":0,"v":0},{"s":"9-36","t":0.5,"v":0.01},{"s":"9-36","t":1,"v":0.015},{"s":"9-36","t":1.5,"v":0.02},{"s":"9-36","t":2,"v":0.04},{"s":"9-36","t":2.5,"v":0.07},{"s":"9-36","t":3,"v":0.1},{"s":"9-36","t":3.5,"v":0.15},{"s":"9-36","t":4,"v":0.2},{"s":"9-36","t":4.5,"v":0.26},{"s":"9-36","t":5,"v":0.3},{"s":"9-36","t":5.5,"v":0.34},{"s":"9-36","t":6,"v":0.37},{"s":"9-36","t":6.5,"v":0.4},{"s":"9-36","t":7,"v":0.415},{"s":"9-36","t":7.5,"v":0.42},{"s":"9-36","t":8,"v":0.425},{"s":"9-36","t":8.5,"v":0.43},{"s":"9-36","t":9,"v":0.43},{"s":"9-36","t":9.5,"v":0.43},{"s":"9-36","t":10,"v":0.425},{"s":"9-36","t":10.5,"v":0.42},{"s":"9-36","t":11,"v":0.44},{"s":"9-36","t":11.5,"v":0.435},{"s":"9-36","t":12,"v":0.44},{"s":"9-36","t":12.5,"v":0.43},{"s":"9-36","t":13,"v":0.43},{"s":"9-36","t":13.5,"v":0.43},{"s":"9-36","t":14,"v":0.43},{"s":"9-36","t":14.5,"v":0.43},{"s":"9-36","t":15,"v":0.428},{"s":"9-36","t":15.5,"v":0.425},{"s":"9-36","t":16,"v":0.43},{"s":"9-36","t":16.5,"v":0.43},{"s":"9-36","t":17,"v":0.43},{"s":"9-36","t":17.5,"v":0.432},{"s":"9-36","t":18,"v":0.432},{"s":"9-36","t":18.5,"v":0.432},{"s":"9-36","t":19,"v":0.43},{"s":"9-36","t":19.5,"v":0.43},{"s":"9-36","t":20,"v":0.433},{"s":"9-36","t":20.5,"v":0.43},{"s":"9-36","t":21,"v":0.432},{"s":"9-36","t":21.5,"v":0.432},{"s":"9-36","t":22,"v":0.43},{"s":"9-36","t":22.5,"v":0.43},{"s":"9-36","t":23,"v":0.43},{"s":"9-36","t":23.5,"v":0.43},{"s":"9-36","t":24,"v":0.435},
{"s":"10-21","t":0,"v":0},{"s":"10-21","t":0.5,"v":0.01},{"s":"10-21","t":1,"v":0.015},{"s":"10-21","t":1.5,"v":0.02},{"s":"10-21","t":2,"v":0.04},{"s":"10-21","t":2.5,"v":0.07},{"s":"10-21","t":3,"v":0.11},{"s":"10-21","t":3.5,"v":0.16},{"s":"10-21","t":4,"v":0.21},{"s":"10-21","t":4.5,"v":0.27},{"s":"10-21","t":5,"v":0.31},{"s":"10-21","t":5.5,"v":0.35},{"s":"10-21","t":6,"v":0.38},{"s":"10-21","t":6.5,"v":0.4},{"s":"10-21","t":7,"v":0.415},{"s":"10-21","t":7.5,"v":0.42},{"s":"10-21","t":8,"v":0.425},{"s":"10-21","t":8.5,"v":0.425},{"s":"10-21","t":9,"v":0.425},{"s":"10-21","t":9.5,"v":0.425},{"s":"10-21","t":10,"v":0.42},{"s":"10-21","t":10.5,"v":0.425},{"s":"10-21","t":11,"v":0.435},{"s":"10-21","t":11.5,"v":0.435},{"s":"10-21","t":12,"v":0.445},{"s":"10-21","t":12.5,"v":0.435},{"s":"10-21","t":13,"v":0.435},{"s":"10-21","t":13.5,"v":0.43},{"s":"10-21","t":14,"v":0.435},{"s":"10-21","t":14.5,"v":0.435},{"s":"10-21","t":15,"v":0.43},{"s":"10-21","t":15.5,"v":0.43},{"s":"10-21","t":16,"v":0.435},{"s":"10-21","t":16.5,"v":0.435},{"s":"10-21","t":17,"v":0.435},{"s":"10-21","t":17.5,"v":0.435},{"s":"10-21","t":18,"v":0.435},{"s":"10-21","t":18.5,"v":0.435},{"s":"10-21","t":19,"v":0.435},{"s":"10-21","t":19.5,"v":0.433},{"s":"10-21","t":20,"v":0.435},{"s":"10-21","t":20.5,"v":0.435},{"s":"10-21","t":21,"v":0.435},{"s":"10-21","t":21.5,"v":0.433},{"s":"10-21","t":22,"v":0.432},{"s":"10-21","t":22.5,"v":0.432},{"s":"10-21","t":23,"v":0.432},{"s":"10-21","t":23.5,"v":0.432},{"s":"10-21","t":24,"v":0.435}
],
"d":[
{"s":"MG","t":0,"v":0},{"s":"MG","t":0.5,"v":0.038},{"s":"MG","t":1,"v":0.052},{"s":"MG","t":1.5,"v":0.08},{"s":"MG","t":2,"v":0.114},{"s":"MG","t":2.5,"v":0.169},{"s":"MG","t":3,"v":0.21},{"s":"MG","t":3.5,"v":0.247},{"s":"MG","t":4,"v":0.262},{"s":"MG","t":4.5,"v":0.276},{"s":"MG","t":5,"v":0.285},{"s":"MG","t":5.5,"v":0.29},{"s":"MG","t":6,"v":0.3},{"s":"MG","t":6.5,"v":0.31},{"s":"MG","t":7,"v":0.31},{"s":"MG","t":7.5,"v":0.312},{"s":"MG","t":8,"v":0.315},{"s":"MG","t":8.5,"v":0.318},{"s":"MG","t":9,"v":0.32},{"s":"MG","t":9.5,"v":0.325},{"s":"MG","t":10,"v":0.33},{"s":"MG","t":10.5,"v":0.335},{"s":"MG","t":11,"v":0.335},{"s":"MG","t":11.5,"v":0.33},{"s":"MG","t":12,"v":0.34},{"s":"MG","t":12.5,"v":0.34},{"s":"MG","t":13,"v":0.34},{"s":"MG","t":13.5,"v":0.338},{"s":"MG","t":14,"v":0.34},{"s":"MG","t":14.5,"v":0.342},{"s":"MG","t":15,"v":0.34},{"s":"MG","t":15.5,"v":0.335},{"s":"MG","t":16,"v":0.34},{"s":"MG","t":16.5,"v":0.342},{"s":"MG","t":17,"v":0.345},{"s":"MG","t":17.5,"v":0.346},{"s":"MG","t":18,"v":0.348},{"s":"MG","t":18.5,"v":0.348},{"s":"MG","t":19,"v":0.348},{"s":"MG","t":19.5,"v":0.35},{"s":"MG","t":20,"v":0.35},{"s":"MG","t":20.5,"v":0.352},{"s":"MG","t":21,"v":0.355},{"s":"MG","t":21.5,"v":0.355},{"s":"MG","t":22,"v":0.358},{"s":"MG","t":22.5,"v":0.36},{"s":"MG","t":23,"v":0.365},{"s":"MG","t":23.5,"v":0.365},{"s":"MG","t":24,"v":0.37},
{"s":"H-NS(WT)","t":0,"v":0},{"s":"H-NS(WT)","t":0.5,"v":0.03},{"s":"H-NS(WT)","t":1,"v":0.045},{"s":"H-NS(WT)","t":1.5,"v":0.06},{"s":"H-NS(WT)","t":2,"v":0.075},{"s":"H-NS(WT)","t":2.5,"v":0.09},{"s":"H-NS(WT)","t":3,"v":0.1},{"s":"H-NS(WT)","t":3.5,"v":0.12},{"s":"H-NS(WT)","t":4,"v":0.135},{"s":"H-NS(WT)","t":4.5,"v":0.15},{"s":"H-NS(WT)","t":5,"v":0.165},{"s":"H-NS(WT)","t":5.5,"v":0.18},{"s":"H-NS(WT)","t":6,"v":0.195},{"s":"H-NS(WT)","t":6.5,"v":0.21},{"s":"H-NS(WT)","t":7,"v":0.22},{"s":"H-NS(WT)","t":7.5,"v":0.23},{"s":"H-NS(WT)","t":8,"v":0.24},{"s":"H-NS(WT)","t":8.5,"v":0.25},{"s":"H-NS(WT)","t":9,"v":0.26},{"s":"H-NS(WT)","t":9.5,"v":0.265},{"s":"H-NS(WT)","t":10,"v":0.275},{"s":"H-NS(WT)","t":10.5,"v":0.28},{"s":"H-NS(WT)","t":11,"v":0.28},{"s":"H-NS(WT)","t":11.5,"v":0.29},{"s":"H-NS(WT)","t":12,"v":0.3},{"s":"H-NS(WT)","t":12.5,"v":0.305},{"s":"H-NS(WT)","t":13,"v":0.305},{"s":"H-NS(WT)","t":13.5,"v":0.305},{"s":"H-NS(WT)","t":14,"v":0.315},{"s":"H-NS(WT)","t":14.5,"v":0.315},{"s":"H-NS(WT)","t":15,"v":0.31},{"s":"H-NS(WT)","t":15.5,"v":0.31},{"s":"H-NS(WT)","t":16,"v":0.315},{"s":"H-NS(WT)","t":16.5,"v":0.32},{"s":"H-NS(WT)","t":17,"v":0.325},{"s":"H-NS(WT)","t":17.5,"v":0.33},{"s":"H-NS(WT)","t":18,"v":0.33},{"s":"H-NS(WT)","t":18.5,"v":0.33},{"s":"H-NS(WT)","t":19,"v":0.33},{"s":"H-NS(WT)","t":19.5,"v":0.33},{"s":"H-NS(WT)","t":20,"v":0.335},{"s":"H-NS(WT)","t":20.5,"v":0.34},{"s":"H-NS(WT)","t":21,"v":0.34},{"s":"H-NS(WT)","t":21.5,"v":0.34},{"s":"H-NS(WT)","t":22,"v":0.345},{"s":"H-NS(WT)","t":22.5,"v":0.345},{"s":"H-NS(WT)","t":23,"v":0.345},{"s":"H-NS(WT)","t":23.5,"v":0.35},{"s":"H-NS(WT)","t":24,"v":0.35},
{"s":"3-36","t":0,"v":0},{"s":"3-36","t":0.5,"v":0.025},{"s":"3-36","t":1,"v":0.035},{"s":"3-36","t":1.5,"v":0.055},{"s":"3-36","t":2,"v":0.08},{"s":"3-36","t":2.5,"v":0.1},{"s":"3-36","t":3,"v":0.13},{"s":"3-36","t":3.5,"v":0.16},{"s":"3-36","t":4,"v":0.19},{"s":"3-36","t":4.5,"v":0.225},{"s":"3-36","t":5,"v":0.26},{"s":"3-36","t":5.5,"v":0.28},{"s":"3-36","t":6,"v":0.29},{"s":"3-36","t":6.5,"v":0.295},{"s":"3-36","t":7,"v":0.3},{"s":"3-36","t":7.5,"v":0.305},{"s":"3-36","t":8,"v":0.31},{"s":"3-36","t":8.5,"v":0.315},{"s":"3-36","t":9,"v":0.32},{"s":"3-36","t":9.5,"v":0.325},{"s":"3-36","t":10,"v":0.33},{"s":"3-36","t":10.5,"v":0.335},{"s":"3-36","t":11,"v":0.34},{"s":"3-36","t":11.5,"v":0.345},{"s":"3-36","t":12,"v":0.345},{"s":"3-36","t":12.5,"v":0.345},{"s":"3-36","t":13,"v":0.345},{"s":"3-36","t":13.5,"v":0.35},{"s":"3-36","t":14,"v":0.35},{"s":"3-36","t":14.5,"v":0.35},{"s":"3-36","t":15,"v":0.35},{"s":"3-36","t":15.5,"v":0.35},{"s":"3-36","t":16,"v":0.35},{"s":"3-36","t":16.5,"v":0.352},{"s":"3-36","t":17,"v":0.355},{"s":"3-36","t":17.5,"v":0.355},{"s":"3-36","t":18,"v":0.355},{"s":"3-36","t":18.5,"v":0.356},{"s":"3-36","t":19,"v":0.358},{"s":"3-36","t":19.5,"v":0.358},{"s":"3-36","t":20,"v":0.36},{"s":"3-36","t":20.5,"v":0.36},{"s":"3-36","t":21,"v":0.36},{"s":"3-36","t":21.5,"v":0.36},{"s":"3-36","t":22,"v":0.365},{"s":"3-36","t":22.5,"v":0.365},{"s":"3-36","t":23,"v":0.368},{"s":"3-36","t":23.5,"v":0.37},{"s":"3-36","t":24,"v":0.37},
{"s":"5-30","t":0,"v":0},{"s":"5-30","t":0.5,"v":0.025},{"s":"5-30","t":1,"v":0.035},{"s":"5-30","t":1.5,"v":0.055},{"s":"5-30","t":2,"v":0.08},{"s":"5-30","t":2.5,"v":0.11},{"s":"5-30","t":3,"v":0.14},{"s":"5-30","t":3.5,"v":0.175},{"s":"5-30","t":4,"v":0.21},{"s":"5-30","t":4.5,"v":0.24},{"s":"5-30","t":5,"v":0.27},{"s":"5-30","t":5.5,"v":0.285},{"s":"5-30","t":6,"v":0.3},{"s":"5-30","t":6.5,"v":0.31},{"s":"5-30","t":7,"v":0.315},{"s":"5-30","t":7.5,"v":0.32},{"s":"5-30","t":8,"v":0.325},{"s":"5-30","t":8.5,"v":0.33},{"s":"5-30","t":9,"v":0.34},{"s":"5-30","t":9.5,"v":0.345},{"s":"5-30","t":10,"v":0.355},{"s":"5-30","t":10.5,"v":0.36},{"s":"5-30","t":11,"v":0.365},{"s":"5-30","t":11.5,"v":0.37},{"s":"5-30","t":12,"v":0.375},{"s":"5-30","t":12.5,"v":0.378},{"s":"5-30","t":13,"v":0.38},{"s":"5-30","t":13.5,"v":0.382},{"s":"5-30","t":14,"v":0.385},{"s":"5-30","t":14.5,"v":0.39},{"s":"5-30","t":15,"v":0.385},{"s":"5-30","t":15.5,"v":0.385},{"s":"5-30","t":16,"v":0.39},{"s":"5-30","t":16.5,"v":0.392},{"s":"5-30","t":17,"v":0.395},{"s":"5-30","t":17.5,"v":0.396},{"s":"5-30","t":18,"v":0.398},{"s":"5-30","t":18.5,"v":0.398},{"s":"5-30","t":19,"v":0.395},{"s":"5-30","t":19.5,"v":0.398},{"s":"5-30","t":20,"v":0.4},{"s":"5-30","t":20.5,"v":0.405},{"s":"5-30","t":21,"v":0.405},{"s":"5-30","t":21.5,"v":0.4},{"s":"5-30","t":22,"v":0.405},{"s":"5-30","t":22.5,"v":0.405},{"s":"5-30","t":23,"v":0.405},{"s":"5-30","t":23.5,"v":0.407},{"s":"5-30","t":24,"v":0.408},
{"s":"9-1","t":0,"v":0},{"s":"9-1","t":0.5,"v":0.02},{"s":"9-1","t":1,"v":0.03},{"s":"9-1","t":1.5,"v":0.05},{"s":"9-1","t":2,"v":0.07},{"s":"9-1","t":2.5,"v":0.1},{"s":"9-1","t":3,"v":0.13},{"s":"9-1","t":3.5,"v":0.155},{"s":"9-1","t":4,"v":0.18},{"s":"9-1","t":4.5,"v":0.215},{"s":"9-1","t":5,"v":0.25},{"s":"9-1","t":5.5,"v":0.275},{"s":"9-1","t":6,"v":0.29},{"s":"9-1","t":6.5,"v":0.3},{"s":"9-1","t":7,"v":0.305},{"s":"9-1","t":7.5,"v":0.31},{"s":"9-1","t":8,"v":0.32},{"s":"9-1","t":8.5,"v":0.325},{"s":"9-1","t":9,"v":0.33},{"s":"9-1","t":9.5,"v":0.335},{"s":"9-1","t":10,"v":0.34},{"s":"9-1","t":10.5,"v":0.342},{"s":"9-1","t":11,"v":0.345},{"s":"9-1","t":11.5,"v":0.348},{"s":"9-1","t":12,"v":0.35},{"s":"9-1","t":12.5,"v":0.352},{"s":"9-1","t":13,"v":0.355},{"s":"9-1","t":13.5,"v":0.355},{"s":"9-1","t":14,"v":0.355},{"s":"9-1","t":14.5,"v":0.355},{"s":"9-1","t":15,"v":0.355},{"s":"9-1","t":15.5,"v":0.352},{"s":"9-1","t":16,"v":0.355},{"s":"9-1","t":16.5,"v":0.358},{"s":"9-1","t":17,"v":0.36},{"s":"9-1","t":17.5,"v":0.36},{"s":"9-1","t":18,"v":0.362},{"s":"9-1","t":18.5,"v":0.362},{"s":"9-1","t":19,"v":0.36},{"s":"9-1","t":19.5,"v":0.362},{"s":"9-1","t":20,"v":0.365},{"s":"9-1","t":20.5,"v":0.368},{"s":"9-1","t":21,"v":0.37},{"s":"9-1","t":21.5,"v":0.368},{"s":"9-1","t":22,"v":0.372},{"s":"9-1","t":22.5,"v":0.375},{"s":"9-1","t":23,"v":0.375},{"s":"9-1","t":23.5,"v":0.378},{"s":"9-1","t":24,"v":0.378},
{"s":"9-36","t":0,"v":0},{"s":"9-36","t":0.5,"v":0.03},{"s":"9-36","t":1,"v":0.04},{"s":"9-36","t":1.5,"v":0.06},{"s":"9-36","t":2,"v":0.09},{"s":"9-36","t":2.5,"v":0.13},{"s":"9-36","t":3,"v":0.17},{"s":"9-36","t":3.5,"v":0.2},{"s":"9-36","t":4,"v":0.23},{"s":"9-36","t":4.5,"v":0.26},{"s":"9-36","t":5,"v":0.29},{"s":"9-36","t":5.5,"v":0.305},{"s":"9-36","t":6,"v":0.315},{"s":"9-36","t":6.5,"v":0.335},{"s":"9-36","t":7,"v":0.34},{"s":"9-36","t":7.5,"v":0.35},{"s":"9-36","t":8,"v":0.355},{"s":"9-36","t":8.5,"v":0.365},{"s":"9-36","t":9,"v":0.37},{"s":"9-36","t":9.5,"v":0.38},{"s":"9-36","t":10,"v":0.39},{"s":"9-36","t":10.5,"v":0.395},{"s":"9-36","t":11,"v":0.39},{"s":"9-36","t":11.5,"v":0.405},{"s":"9-36","t":12,"v":0.41},{"s":"9-36","t":12.5,"v":0.41},{"s":"9-36","t":13,"v":0.415},{"s":"9-36","t":13.5,"v":0.415},{"s":"9-36","t":14,"v":0.42},{"s":"9-36","t":14.5,"v":0.425},{"s":"9-36","t":15,"v":0.42},{"s":"9-36","t":15.5,"v":0.42},{"s":"9-36","t":16,"v":0.425},{"s":"9-36","t":16.5,"v":0.43},{"s":"9-36","t":17,"v":0.435},{"s":"9-36","t":17.5,"v":0.435},{"s":"9-36","t":18,"v":0.435},{"s":"9-36","t":18.5,"v":0.435},{"s":"9-36","t":19,"v":0.435},{"s":"9-36","t":19.5,"v":0.44},{"s":"9-36","t":20,"v":0.44},{"s":"9-36","t":20.5,"v":0.445},{"s":"9-36","t":21,"v":0.445},{"s":"9-36","t":21.5,"v":0.445},{"s":"9-36","t":22,"v":0.45},{"s":"9-36","t":22.5,"v":0.45},{"s":"9-36","t":23,"v":0.45},{"s":"9-36","t":23.5,"v":0.455},{"s":"9-36","t":24,"v":0.452},
{"s":"10-21","t":0,"v":0},{"s":"10-21","t":0.5,"v":0.025},{"s":"10-21","t":1,"v":0.035},{"s":"10-21","t":1.5,"v":0.05},{"s":"10-21","t":2,"v":0.07},{"s":"10-21","t":2.5,"v":0.095},{"s":"10-21","t":3,"v":0.12},{"s":"10-21","t":3.5,"v":0.16},{"s":"10-21","t":4,"v":0.2},{"s":"10-21","t":4.5,"v":0.235},{"s":"10-21","t":5,"v":0.26},{"s":"10-21","t":5.5,"v":0.27},{"s":"10-21","t":6,"v":0.28},{"s":"10-21","t":6.5,"v":0.29},{"s":"10-21","t":7,"v":0.29},{"s":"10-21","t":7.5,"v":0.295},{"s":"10-21","t":8,"v":0.3},{"s":"10-21","t":8.5,"v":0.302},{"s":"10-21","t":9,"v":0.305},{"s":"10-21","t":9.5,"v":0.31},{"s":"10-21","t":10,"v":0.315},{"s":"10-21","t":10.5,"v":0.318},{"s":"10-21","t":11,"v":0.32},{"s":"10-21","t":11.5,"v":0.325},{"s":"10-21","t":12,"v":0.325},{"s":"10-21","t":12.5,"v":0.325},{"s":"10-21","t":13,"v":0.325},{"s":"10-21","t":13.5,"v":0.325},{"s":"10-21","t":14,"v":0.325},{"s":"10-21","t":14.5,"v":0.325},{"s":"10-21","t":15,"v":0.325},{"s":"10-21","t":15.5,"v":0.32},{"s":"10-21","t":16,"v":0.325},{"s":"10-21","t":16.5,"v":0.328},{"s":"10-21","t":17,"v":0.328},{"s":"10-21","t":17.5,"v":0.33},{"s":"10-21","t":18,"v":0.33},{"s":"10-21","t":18.5,"v":0.33},{"s":"10-21","t":19,"v":0.33},{"s":"10-21","t":19.5,"v":0.332},{"s":"10-21","t":20,"v":0.335},{"s":"10-21","t":20.5,"v":0.335},{"s":"10-21","t":21,"v":0.335},{"s":"10-21","t":21.5,"v":0.33},{"s":"10-21","t":22,"v":0.34},{"s":"10-21","t":22.5,"v":0.34},{"s":"10-21","t":23,"v":0.342},{"s":"10-21","t":23.5,"v":0.345},{"s":"10-21","t":24,"v":0.348}
]
},
"vconcat":[
{"hconcat":[
{"width":244,"height":185,
"layer":[
{"data":{"name":"a"},"mark":{"type":"line","strokeWidth":1},"encoding":{
"x":{"field":"t","type":"quantitative","scale":{"domain":[0,24],"nice":false},"axis":{"title":"Time/h","values":[0,2,4,6,8,10,12,14,16,18,20,22,24],"labelExpr":"datum.value % 4 === 0 ? datum.label : ''","grid":false}},
"y":{"field":"v","type":"quantitative","scale":{"domain":[0,0.9],"nice":false},"axis":{"title":"OD₆₀₀","values":[0,0.1,0.2,0.3,0.4,0.5,0.6,0.7,0.8],"labelExpr":"abs(datum.value*5-round(datum.value*5))<0.001 ? (datum.value==0 ? '0' : format(datum.value,'.1f')) : ''","grid":true,"gridOpacity":{"condition":{"test":"abs(datum.value*5-round(datum.value*5))<0.001 && datum.value>0","value":1},"value":0},"titlePadding":9}},
"color":{"field":"s","type":"nominal","scale":{"domain":["MG","Δhns","H-NS(WT)","3-36","5-30","9-1","9-36","10-21"],"range":["#000000","#d0202a","#ff4a4a","#92d050","#20ae5c","#3cc8f4","#2f78c4","#223a7a"]},"legend":null}}},
{"data":{"name":"a"},"mark":{"type":"point","filled":true,"size":10,"opacity":1,"shape":"square"},"encoding":{
"x":{"field":"t","type":"quantitative","scale":{"domain":[0,24],"nice":false},"axis":{"title":"Time/h","values":[0,2,4,6,8,10,12,14,16,18,20,22,24],"labelExpr":"datum.value % 4 === 0 ? datum.label : ''","grid":false}},
"y":{"field":"v","type":"quantitative","scale":{"domain":[0,0.9],"nice":false},"axis":{"title":"OD₆₀₀","values":[0,0.1,0.2,0.3,0.4,0.5,0.6,0.7,0.8],"labelExpr":"abs(datum.value*5-round(datum.value*5))<0.001 ? (datum.value==0 ? '0' : format(datum.value,'.1f')) : ''","grid":true,"gridOpacity":{"condition":{"test":"abs(datum.value*5-round(datum.value*5))<0.001 && datum.value>0","value":1},"value":0},"titlePadding":9}},
"color":{"field":"s","type":"nominal","legend":null}}},
{"data":{"values":[{}]},"mark":{"type":"text","fill":"#000000","font":"Liberation Sans","fontSize":15,"fontWeight":"bold","align":"left","baseline":"alphabetic"},"encoding":{
"x":{"datum":-4.13,"type":"quantitative","scale":{"domain":[0,24],"nice":false},"axis":{"title":"Time/h","values":[0,2,4,6,8,10,12,14,16,18,20,22,24],"labelExpr":"datum.value % 4 === 0 ? datum.label : ''","grid":false}},
"y":{"datum":0.851,"type":"quantitative","scale":{"domain":[0,0.9],"nice":false},"axis":{"title":"OD₆₀₀","values":[0,0.1,0.2,0.3,0.4,0.5,0.6,0.7,0.8],"labelExpr":"abs(datum.value*5-round(datum.value*5))<0.001 ? (datum.value==0 ? '0' : format(datum.value,'.1f')) : ''","grid":true,"gridOpacity":{"condition":{"test":"abs(datum.value*5-round(datum.value*5))<0.001 && datum.value>0","value":1},"value":0},"titlePadding":9}},
"text":{"value":"a"}}}
]},
{"width":245,"height":185,
"layer":[
{"data":{"name":"b"},"mark":{"type":"line","strokeWidth":1},"encoding":{
"x":{"field":"t","type":"quantitative","scale":{"domain":[0,24],"nice":false},"axis":{"title":"Time/h","values":[0,2,4,6,8,10,12,14,16,18,20,22,24],"labelExpr":"datum.value % 4 === 0 ? datum.label : ''","grid":false}},
"y":{"field":"v","type":"quantitative","scale":{"domain":[0,0.9],"nice":false},"axis":{"title":"OD₆₀₀","values":[0,0.1,0.2,0.3,0.4,0.5,0.6,0.7,0.8],"labelExpr":"abs(datum.value*5-round(datum.value*5))<0.001 ? (datum.value==0 ? '0' : format(datum.value,'.1f')) : ''","grid":true,"gridOpacity":{"condition":{"test":"abs(datum.value*5-round(datum.value*5))<0.001 && datum.value>0","value":1},"value":0},"titlePadding":9}},
"color":{"field":"s","type":"nominal","scale":{"domain":["MG","Δhns","H-NS(WT)","3-36","5-30","9-1","9-36","10-21"],"range":["#000000","#d0202a","#ff4a4a","#92d050","#20ae5c","#3cc8f4","#2f78c4","#223a7a"]},"legend":{"title":null,"orient":"right","padding":27,"offset":-18,"rowPadding":0}}}},
{"data":{"name":"b"},"mark":{"type":"point","filled":true,"size":10,"opacity":1,"shape":"square"},"encoding":{
"x":{"field":"t","type":"quantitative","scale":{"domain":[0,24],"nice":false},"axis":{"title":"Time/h","values":[0,2,4,6,8,10,12,14,16,18,20,22,24],"labelExpr":"datum.value % 4 === 0 ? datum.label : ''","grid":false}},
"y":{"field":"v","type":"quantitative","scale":{"domain":[0,0.9],"nice":false},"axis":{"title":"OD₆₀₀","values":[0,0.1,0.2,0.3,0.4,0.5,0.6,0.7,0.8],"labelExpr":"abs(datum.value*5-round(datum.value*5))<0.001 ? (datum.value==0 ? '0' : format(datum.value,'.1f')) : ''","grid":true,"gridOpacity":{"condition":{"test":"abs(datum.value*5-round(datum.value*5))<0.001 && datum.value>0","value":1},"value":0},"titlePadding":9}},
"color":{"field":"s","type":"nominal"}}},
{"data":{"values":[{}]},"mark":{"type":"text","fill":"#000000","font":"Liberation Sans","fontSize":15,"fontWeight":"bold","align":"left","baseline":"alphabetic"},"encoding":{
"x":{"datum":-4.21,"type":"quantitative","scale":{"domain":[0,24],"nice":false},"axis":{"title":"Time/h","values":[0,2,4,6,8,10,12,14,16,18,20,22,24],"labelExpr":"datum.value % 4 === 0 ? datum.label : ''","grid":false}},
"y":{"datum":0.851,"type":"quantitative","scale":{"domain":[0,0.9],"nice":false},"axis":{"title":"OD₆₀₀","values":[0,0.1,0.2,0.3,0.4,0.5,0.6,0.7,0.8],"labelExpr":"abs(datum.value*5-round(datum.value*5))<0.001 ? (datum.value==0 ? '0' : format(datum.value,'.1f')) : ''","grid":true,"gridOpacity":{"condition":{"test":"abs(datum.value*5-round(datum.value*5))<0.001 && datum.value>0","value":1},"value":0},"titlePadding":9}},
"text":{"value":"b"}}}
]}
],"spacing":35,"resolve":{"scale":{"color":"independent"},"legend":{"color":"independent"}}},
{"hconcat":[
{"width":244,"height":184,
"layer":[
{"data":{"name":"c"},"mark":{"type":"line","strokeWidth":1},"encoding":{
"x":{"field":"t","type":"quantitative","scale":{"domain":[0,24],"nice":false},"axis":{"title":"Time/h","values":[0,2,4,6,8,10,12,14,16,18,20,22,24],"labelExpr":"datum.value % 4 === 0 ? datum.label : ''","grid":false}},
"y":{"field":"v","type":"quantitative","scale":{"domain":[0,0.6],"nice":false},"axis":{"title":"OD₆₀₀","values":[0,0.05,0.1,0.15,0.2,0.25,0.3,0.35,0.4,0.45,0.5,0.55,0.6],"labelExpr":"abs(datum.value*10-round(datum.value*10))<0.001 ? (datum.value==0 ? '0' : format(datum.value,'.1f')) : ''","grid":true,"gridOpacity":{"condition":{"test":"abs(datum.value*10-round(datum.value*10))<0.001 && datum.value>0","value":1},"value":0},"titlePadding":9}},
"color":{"field":"s","type":"nominal","scale":{"domain":["MG","H-NS(WT)","3-36","5-30","9-1","9-36","10-21"],"range":["#000000","#ff4a4a","#92d050","#20ae5c","#3cc8f4","#2f78c4","#223a7a"]},"legend":null}}},
{"data":{"name":"c"},"mark":{"type":"point","filled":true,"size":10,"opacity":1,"shape":"square"},"encoding":{
"x":{"field":"t","type":"quantitative","scale":{"domain":[0,24],"nice":false},"axis":{"title":"Time/h","values":[0,2,4,6,8,10,12,14,16,18,20,22,24],"labelExpr":"datum.value % 4 === 0 ? datum.label : ''","grid":false}},
"y":{"field":"v","type":"quantitative","scale":{"domain":[0,0.6],"nice":false},"axis":{"title":"OD₆₀₀","values":[0,0.05,0.1,0.15,0.2,0.25,0.3,0.35,0.4,0.45,0.5,0.55,0.6],"labelExpr":"abs(datum.value*10-round(datum.value*10))<0.001 ? (datum.value==0 ? '0' : format(datum.value,'.1f')) : ''","grid":true,"gridOpacity":{"condition":{"test":"abs(datum.value*10-round(datum.value*10))<0.001 && datum.value>0","value":1},"value":0},"titlePadding":9}},
"color":{"field":"s","type":"nominal","legend":null}}},
{"data":{"values":[{}]},"mark":{"type":"text","fill":"#000000","font":"Liberation Sans","fontSize":15,"fontWeight":"bold","align":"left","baseline":"alphabetic"},"encoding":{
"x":{"datum":-4.4,"type":"quantitative","scale":{"domain":[0,24],"nice":false},"axis":{"title":"Time/h","values":[0,2,4,6,8,10,12,14,16,18,20,22,24],"labelExpr":"datum.value % 4 === 0 ? datum.label : ''","grid":false}},
"y":{"datum":0.59,"type":"quantitative","scale":{"domain":[0,0.6],"nice":false},"axis":{"title":"OD₆₀₀","values":[0,0.05,0.1,0.15,0.2,0.25,0.3,0.35,0.4,0.45,0.5,0.55,0.6],"labelExpr":"abs(datum.value*10-round(datum.value*10))<0.001 ? (datum.value==0 ? '0' : format(datum.value,'.1f')) : ''","grid":true,"gridOpacity":{"condition":{"test":"abs(datum.value*10-round(datum.value*10))<0.001 && datum.value>0","value":1},"value":0},"titlePadding":9}},
"text":{"value":"c"}}}
]},
{"width":247,"height":184,
"layer":[
{"data":{"name":"d"},"mark":{"type":"line","strokeWidth":1},"encoding":{
"x":{"field":"t","type":"quantitative","scale":{"domain":[0,24],"nice":false},"axis":{"title":"Time/h","values":[0,2,4,6,8,10,12,14,16,18,20,22,24],"labelExpr":"datum.value % 4 === 0 ? datum.label : ''","grid":false}},
"y":{"field":"v","type":"quantitative","scale":{"domain":[0,0.6],"nice":false},"axis":{"title":"OD₆₀₀","values":[0,0.05,0.1,0.15,0.2,0.25,0.3,0.35,0.4,0.45,0.5,0.55,0.6],"labelExpr":"abs(datum.value*10-round(datum.value*10))<0.001 ? (datum.value==0 ? '0' : format(datum.value,'.1f')) : ''","grid":true,"gridOpacity":{"condition":{"test":"abs(datum.value*10-round(datum.value*10))<0.001 && datum.value>0","value":1},"value":0},"titlePadding":9}},
"color":{"field":"s","type":"nominal","scale":{"domain":["MG","H-NS(WT)","3-36","5-30","9-1","9-36","10-21"],"range":["#000000","#ff4a4a","#92d050","#20ae5c","#3cc8f4","#2f78c4","#223a7a"]},"legend":{"title":null,"orient":"right","padding":27,"offset":-21,"rowPadding":2.5}}}},
{"data":{"name":"d"},"mark":{"type":"point","filled":true,"size":10,"opacity":1,"shape":"square"},"encoding":{
"x":{"field":"t","type":"quantitative","scale":{"domain":[0,24],"nice":false},"axis":{"title":"Time/h","values":[0,2,4,6,8,10,12,14,16,18,20,22,24],"labelExpr":"datum.value % 4 === 0 ? datum.label : ''","grid":false}},
"y":{"field":"v","type":"quantitative","scale":{"domain":[0,0.6],"nice":false},"axis":{"title":"OD₆₀₀","values":[0,0.05,0.1,0.15,0.2,0.25,0.3,0.35,0.4,0.45,0.5,0.55,0.6],"labelExpr":"abs(datum.value*10-round(datum.value*10))<0.001 ? (datum.value==0 ? '0' : format(datum.value,'.1f')) : ''","grid":true,"gridOpacity":{"condition":{"test":"abs(datum.value*10-round(datum.value*10))<0.001 && datum.value>0","value":1},"value":0},"titlePadding":9}},
"color":{"field":"s","type":"nominal"}}},
{"data":{"values":[{}]},"mark":{"type":"text","fill":"#000000","font":"Liberation Sans","fontSize":15,"fontWeight":"bold","align":"left","baseline":"alphabetic"},"encoding":{
"x":{"datum":-4.37,"type":"quantitative","scale":{"domain":[0,24],"nice":false},"axis":{"title":"Time/h","values":[0,2,4,6,8,10,12,14,16,18,20,22,24],"labelExpr":"datum.value % 4 === 0 ? datum.label : ''","grid":false}},
"y":{"datum":0.59,"type":"quantitative","scale":{"domain":[0,0.6],"nice":false},"axis":{"title":"OD₆₀₀","values":[0,0.05,0.1,0.15,0.2,0.25,0.3,0.35,0.4,0.45,0.5,0.55,0.6],"labelExpr":"abs(datum.value*10-round(datum.value*10))<0.001 ? (datum.value==0 ? '0' : format(datum.value,'.1f')) : ''","grid":true,"gridOpacity":{"condition":{"test":"abs(datum.value*10-round(datum.value*10))<0.001 && datum.value>0","value":1},"value":0},"titlePadding":9}},
"text":{"value":"d"}}}
]}
],"spacing":35,"resolve":{"scale":{"color":"independent"},"legend":{"color":"independent"}}}
],
"spacing":18,
"resolve":{"scale":{"color":"independent"},"legend":{"color":"independent"}}
}
